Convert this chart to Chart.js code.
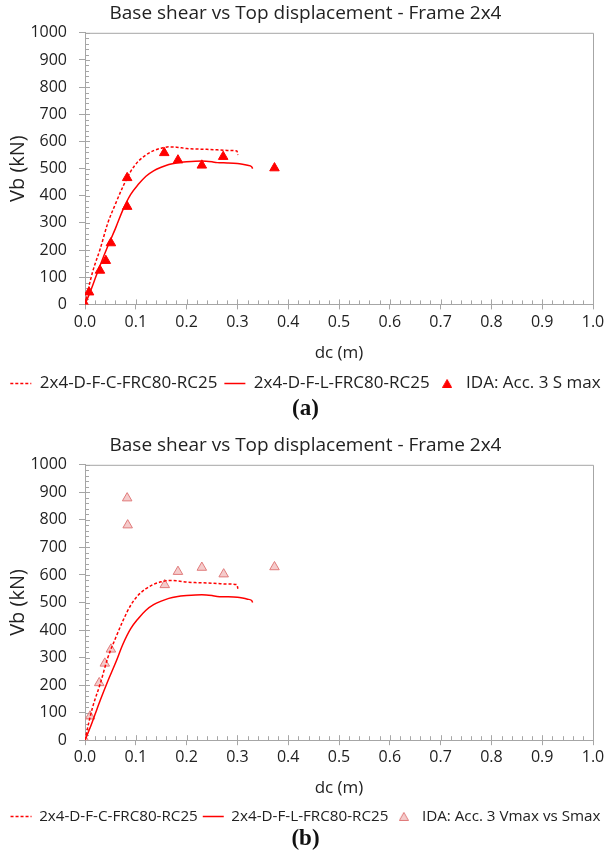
<!DOCTYPE html>
<html lang="en">
<head>
<meta charset="UTF-8">
<title>Base shear vs Top displacement - Frame 2x4</title>
<script src="https://cdn.jsdelivr.net/npm/chart.js@4"></script>
<style>
  body { margin: 0; background: #fff; }
  .panel { position: absolute; left: 0; width: 611px; height: 402px; }
  #panelA { top: 0; }
  #panelB { top: 432px; }
  .tag {
    position: absolute; left: 0; width: 611px; text-align: center;
    font-family: 'Liberation Serif', 'DejaVu Serif', serif;
    font-weight: bold; font-size: 23px; line-height: 26px; color: #111;
  }
  #tagA { top: 395px; }
  #tagB { top: 825px; }
</style>
</head>
<body>
<div class="panel" id="panelA"><canvas id="chartA" width="611" height="402"></canvas></div>
<div class="tag" id="tagA">(a)</div>
<div class="panel" id="panelB"><canvas id="chartB" width="611" height="402"></canvas></div>
<div class="tag" id="tagB">(b)</div>

<script>
// pushover curve 2x4-D-F-C-FRC80-RC25 (dashed)
const dcC = [0, 0.007, 0.015, 0.03, 0.045, 0.06, 0.075, 0.09, 0.105, 0.12, 0.135, 0.15, 0.165, 0.18, 0.2, 0.22, 0.24, 0.26, 0.28, 0.299, 0.301];
const vbC = [0, 60, 120, 205, 300, 370, 435, 490, 527, 550, 566, 575, 580, 579, 574, 572, 571, 569, 567, 565, 550];

// pushover curve 2x4-D-F-L-FRC80-RC25 (solid)
const dcL = [0, 0.01, 0.02, 0.03, 0.045, 0.06, 0.075, 0.09, 0.105, 0.12, 0.135, 0.15, 0.165, 0.18, 0.2, 0.23, 0.25, 0.26, 0.28, 0.3, 0.31, 0.32, 0.328, 0.33];
const vbL = [0, 45, 95, 145, 215, 280, 350, 405, 442, 472, 492, 505, 515, 521, 525, 528, 525, 522, 521, 519, 516, 512, 507, 500];

// IDA: Acc. 3 S max (panel a)
const dcSmax = [0, 0.008, 0.0295, 0.041, 0.051, 0.083, 0.083, 0.156, 0.183, 0.230, 0.272, 0.373];
const vbSmax = [0, 45, 125, 161, 226, 466, 360, 558, 531, 512, 544, 502];

// IDA: Acc. 3 Vmax vs Smax (panel b)
const dcVmax = [0, 0.01, 0.028, 0.039, 0.051, 0.083, 0.084, 0.157, 0.183, 0.230, 0.273, 0.373];
const vbVmax = [0, 87, 208, 279, 330, 879, 781, 564, 612, 627, 603, 629];

const chartTitle = 'Base shear vs Top displacement - Frame 2x4';
const nameC = '2x4-D-F-C-FRC80-RC25';
const nameL = '2x4-D-F-L-FRC80-RC25';

const red = '#FF0000';
const grey = '#A6A6A6';
const ink = '#222';

Chart.defaults.font.family = "'Open Sans', sans-serif";
Chart.defaults.color = ink;

function pts(xs, ys) {
    return xs.map((x, i) => ({ x: x, y: ys[i] }));
}

// small triangle for the legend (pointStyleWidth would stretch the built-in one)
function triangleIcon(fill, stroke) {
    const c = document.createElement('canvas');
    c.width = 10;
    c.height = 9;
    const g = c.getContext('2d');
    g.beginPath();
    g.moveTo(5, 0.5);
    g.lineTo(9.5, 8.5);
    g.lineTo(0.5, 8.5);
    g.closePath();
    g.fillStyle = fill;
    g.fill();
    g.strokeStyle = stroke;
    g.lineWidth = 1;
    g.stroke();
    return c;
}

// plot box plus the small inside ticks Excel draws
const minorTicks = {
    id: 'minorTicks',
    beforeDatasetsDraw(chart) {
        const ctx = chart.ctx;
        const a = chart.chartArea;
        const xs = chart.scales.x, ys = chart.scales.y;
        ctx.save();
        ctx.strokeStyle = grey;
        ctx.lineWidth = 1;
        ctx.beginPath();
        ctx.moveTo(a.left, a.top + 0.5);
        ctx.lineTo(a.right + 0.5, a.top + 0.5);
        ctx.lineTo(a.right + 0.5, a.bottom);
        for (let i = 0; i <= 50; i++) {
            const px = Math.round(xs.getPixelForValue(i * 0.02)) + 0.5;
            ctx.moveTo(px, a.bottom);
            ctx.lineTo(px, a.bottom - (i % 5 === 0 ? 5 : 4));
        }
        for (let i = 0; i <= 50; i++) {
            const py = Math.round(ys.getPixelForValue(i * 20)) + 0.5;
            ctx.moveTo(a.left, py);
            ctx.lineTo(a.left + (i % 5 === 0 ? 5 : 4), py);
        }
        ctx.stroke();
        ctx.restore();
    }
};

function makeChart(id, idaName, idaX, idaY, idaStyle, legendSize, legendPad) {
    const ctx = document.getElementById(id).getContext('2d');
    const idaIcon = triangleIcon(idaStyle.fill, idaStyle.border);
    return new Chart(ctx, {
        type: 'scatter',
        data: {
            datasets: [{
                label: nameC,
                data: pts(dcC, vbC),
                showLine: true,
                borderColor: red,
                borderWidth: 1.5,
                borderDash: [3, 2],
                pointRadius: 0,
                cubicInterpolationMode: 'monotone'
            }, {
                label: nameL,
                data: pts(dcL, vbL),
                showLine: true,
                borderColor: red,
                borderWidth: 1.5,
                pointRadius: 0,
                cubicInterpolationMode: 'monotone'
            }, {
                label: idaName,
                data: pts(idaX, idaY),
                showLine: false,
                pointStyle: 'triangle',
                pointRadius: 5.5,
                pointBackgroundColor: idaStyle.fill,
                pointBorderColor: idaStyle.border,
                pointBorderWidth: idaStyle.width
            }]
        },
        options: {
            responsive: false,
            animation: false,
            plugins: {
                tooltip: { enabled: false },
                title: {
                    display: true,
                    text: chartTitle,
                    color: ink,
                    font: { size: 19, weight: 'normal' },
                    padding: { top: 2, bottom: 8 }
                },
                legend: {
                    position: 'bottom',
                    labels: {
                        usePointStyle: true,
                        pointStyleWidth: 21,
                        boxHeight: 8,
                        padding: legendPad,
                        color: ink,
                        font: { size: legendSize },
                        generateLabels(chart) {
                            return chart.data.datasets.map((ds, i) => ({
                                text: ds.label,
                                datasetIndex: i,
                                hidden: false,
                                fillStyle: red,
                                strokeStyle: red,
                                lineWidth: 1.5,
                                lineDash: ds.borderDash || [],
                                pointStyle: ds.showLine ? 'line' : idaIcon,
                                fontColor: ink
                            }));
                        }
                    }
                }
            },
            scales: {
                x: {
                    type: 'linear',
                    min: 0,
                    max: 1,
                    ticks: {
                        stepSize: 0.1,
                        autoSkip: false,
                        maxRotation: 0,
                        padding: 3,
                        color: ink,
                        font: { size: 16 },
                        callback: v => v.toFixed(1)
                    },
                    grid: { drawOnChartArea: false, tickLength: 5, color: grey },
                    border: { color: grey },
                    title: {
                        display: true,
                        text: 'dc (m)',
                        color: ink,
                        font: { size: 17 },
                        padding: { top: 8, bottom: 5 }
                    }
                },
                y: {
                    type: 'linear',
                    min: 0,
                    max: 1000,
                    ticks: {
                        stepSize: 100,
                        padding: 12,
                        color: ink,
                        font: { size: 16 },
                        callback: v => String(v)
                    },
                    grid: { drawOnChartArea: false, tickLength: 6, color: grey },
                    border: { color: grey },
                    title: {
                        display: true,
                        text: 'Vb (kN)',
                        color: ink,
                        font: { size: 20 },
                        padding: { top: 6, bottom: 0 }
                    },
                    afterFit(scale) { scale.width = 85; }
                },
                // empty right-hand strip so the plot ends where the reference does
                yPad: {
                    type: 'linear',
                    position: 'right',
                    display: true,
                    ticks: { display: false },
                    grid: { display: false },
                    border: { display: false },
                    afterFit(scale) { scale.width = 18; }
                }
            }
        },
        plugins: [minorTicks]
    });
}

makeChart('chartA', 'IDA: Acc. 3 S max', dcSmax, vbSmax,
    { fill: red, border: red, width: 1 }, 17, 7);
makeChart('chartB', 'IDA: Acc. 3 Vmax vs Smax', dcVmax, vbVmax,
    { fill: 'rgba(236,160,160,0.55)', border: '#E07B7B', width: 1 }, 15.2, 5);
</script>
</body>
</html>
